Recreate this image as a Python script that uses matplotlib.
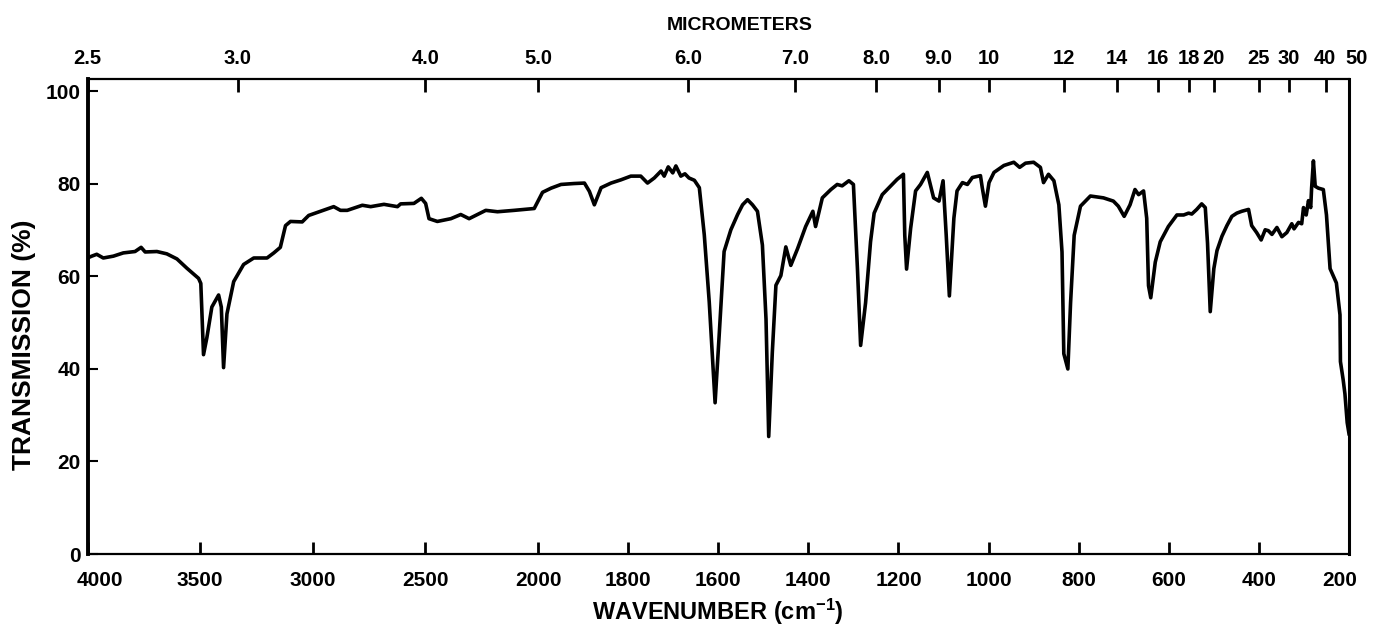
import numpy as np
import matplotlib
matplotlib.use("Agg")
import matplotlib.pyplot as plt
from matplotlib.ticker import FixedLocator, FixedFormatter, NullLocator
from matplotlib.transforms import ScaledTranslation

# ---------------- data ----------------
wavenumber = [
    4000, 3981, 3959, 3930, 3885, 3841, 3789, 3762, 3744, 3692, 3648, 3603, 3559, 3507,
    3497, 3485, 3470, 3448, 3418, 3406, 3396, 3381, 3351, 3307, 3262, 3203, 3173, 3144,
    3121, 3099, 3047, 3018, 2966, 2907, 2877, 2847, 2780, 2743, 2684, 2624, 2610, 2551,
    2518, 2499, 2484, 2447, 2387, 2343, 2306, 2269, 2232, 2180, 2106, 2017, 1990, 1971,
    1949, 1920, 1897, 1886, 1875, 1860, 1838, 1816, 1794, 1772, 1757, 1742, 1727, 1720,
    1711, 1701, 1694, 1683, 1674, 1665, 1653, 1642, 1631, 1620, 1607, 1598, 1587, 1572,
    1557, 1546, 1535, 1524, 1513, 1502, 1494, 1488, 1480, 1472,
    1461, 1450, 1439, 1424, 1406, 1390, 1384, 1369, 1350, 1336, 1325, 1310, 1300, 1291,
    1284, 1273, 1262, 1254, 1236, 1217, 1203, 1189, 1186, 1182, 1173, 1162, 1151, 1136,
    1122, 1110, 1101, 1094, 1087, 1077, 1070, 1058, 1047, 1036, 1018, 1014, 1007, 999,
    988, 966, 944, 931, 918, 900, 885, 878, 867, 855, 844, 837, 833, 824, 818, 810, 796,
    774, 745, 723, 712, 699, 686, 675, 667, 656, 649, 645, 640, 630, 619, 601, 582,
    567, 556, 549, 538, 527, 519, 514, 508, 500, 493, 482, 471, 460, 449, 438, 423, 416,
    405, 395, 386, 379, 371, 360, 349, 338, 327, 322, 312, 305, 301, 295, 290, 285, 283,
    279, 275, 268, 257, 250, 242, 228, 220, 219, 213, 209, 204, 200,
]
transmission = [
    64.0, 64.4, 64.8, 64.0, 64.4, 65.1, 65.4, 66.3, 65.3, 65.4, 64.9, 63.8, 61.8, 59.6,
    58.5, 43.1, 46.8, 53.4, 56.0, 53.4, 40.3, 51.9, 58.9, 62.6, 64.0, 64.0, 65.1, 66.3,
    71.0, 71.9, 71.8, 73.2, 74.1, 75.1, 74.3, 74.3, 75.4, 75.1, 75.6, 75.1, 75.7, 75.8,
    76.9, 75.8, 72.5, 71.9, 72.5, 73.4, 72.5, 73.4, 74.3, 74.0, 74.3, 74.7, 78.2, 79.1,
    79.9, 80.1, 80.2, 78.4, 75.5, 79.2, 80.2, 80.9, 81.7, 81.7, 80.2, 81.3, 82.8, 81.7,
    83.7, 82.4, 83.9, 81.7, 82.2, 81.3, 80.8, 79.2, 69.0, 54.5, 32.7, 47.2, 65.4, 70.1,
    73.4, 75.5, 76.6, 75.5, 74.1, 66.8, 50.8, 25.4, 43.6, 58.1,
    60.2, 66.4, 62.4, 66.0, 70.8, 74.1, 70.8, 77.0, 78.8, 79.9, 79.6, 80.7, 79.9, 61.6,
    45.1, 54.3, 67.5, 73.7, 77.7, 79.6, 81.0, 82.1, 68.9, 61.6, 70.4, 78.5, 79.9, 82.5,
    77.0, 76.3, 80.7, 68.9, 55.8, 72.6, 78.5, 80.3, 79.9, 81.4, 81.8, 79.2, 75.2, 80.3,
    82.5, 84.0, 84.7, 83.6, 84.5, 84.7, 83.6, 80.3, 82.1, 80.7, 75.5, 65.3, 43.3, 40.0,
    54.3, 68.9, 75.2, 77.4, 77.0, 76.3, 75.2, 73.0, 75.5, 78.8, 77.7, 78.5, 72.6, 58.0,
    55.4, 63.1, 67.5, 70.8, 73.3,
    73.3, 73.7, 73.5, 74.5, 75.7, 74.9, 67.2, 52.4, 61.7, 65.6, 68.7, 71.0, 73.0, 73.7,
    74.1, 74.5, 71.0, 69.5, 67.9, 70.1, 69.9, 69.1, 70.6, 68.6, 69.5, 71.4, 70.3, 71.7,
    71.4, 74.9, 73.3, 76.4, 74.9, 79.1, 85.0, 79.5, 79.1, 78.8, 73.3, 61.7, 58.6, 51.7,
    41.6, 37.7, 34.6, 28.4, 26.0,
]

wn_ticks = [4000, 3500, 3000, 2500, 2000, 1800, 1600, 1400, 1200, 1000, 800, 600, 400, 200]
wn_labels = [str(v) for v in wn_ticks]
um_ticks = [2.5, 3.0, 4.0, 5.0, 6.0, 7.0, 8.0, 9.0, 10, 12, 14, 16, 18, 20, 25, 30, 40, 50]
um_labels = ["2.5", "3.0", "4.0", "5.0", "6.0", "7.0", "8.0", "9.0", "10", "12", "14",
             "16", "18", "20", "25", "30", "40", "50"]
y_ticks = [0, 20, 40, 60, 80, 100]

# ---------------- scale: 2x expansion below 2000 cm-1 ----------------
def fwd(w):
    w = np.asarray(w, dtype=float)
    return np.where(w < 2000, w, 2000 + (w - 2000) / 2.0)

def inv(u):
    u = np.asarray(u, dtype=float)
    return np.where(u < 2000, u, 2000 + (u - 2000) * 2.0)

FONT = "Liberation Sans"
plt.rcParams["font.family"] = [FONT, "DejaVu Sans"]
plt.rcParams["font.weight"] = "bold"
plt.rcParams["mathtext.fontset"] = "custom"
plt.rcParams["mathtext.rm"] = "Liberation Sans:bold"
plt.rcParams["mathtext.it"] = "Liberation Sans:bold"
plt.rcParams["mathtext.bf"] = "Liberation Sans:bold"

W, H = 1376, 629
fig = plt.figure(figsize=(W / 100, H / 100), dpi=100)
left, right, top, bottom = 87.5, 1349, 79, 554
ax = fig.add_axes([left / W, (H - bottom) / H, (right - left) / W, (bottom - top) / H])

ax.set_xscale("function", functions=(fwd, inv))
ax.plot(wavenumber, transmission, color="black", lw=2.6, solid_joinstyle="round")
ax.set_xlim(4000, 200)
ax.set_ylim(0, 102.7)

ax.xaxis.set_major_locator(FixedLocator(wn_ticks))
ax.xaxis.set_major_formatter(FixedFormatter(wn_labels))
ax.xaxis.set_minor_locator(NullLocator())
ax.set_yticks(y_ticks)
ax.tick_params(axis="x", direction="in", length=9, width=2, pad=12, labelsize=15, top=False)
ax.tick_params(axis="y", direction="in", length=7, width=1.5, pad=5, labelsize=15, right=False)

for s in ax.spines.values():
    s.set_linewidth(1.6)
ax.spines["left"].set_linewidth(2.8)
ax.spines["right"].set_linewidth(2.2)

ax2 = ax.twiny()
ax2.set_xscale("function", functions=(fwd, inv))
ax2.set_xlim(4000, 200)
ax2.xaxis.set_major_locator(FixedLocator([10000.0 / u for u in um_ticks]))
ax2.xaxis.set_major_formatter(FixedFormatter(um_labels))
ax2.xaxis.set_minor_locator(NullLocator())
ax2.tick_params(axis="x", direction="in", length=9, width=2, pad=8, labelsize=14.5)
for s in ax2.spines.values():
    s.set_visible(False)

fig.text(740 / W, 1 - 26 / H, "MICROMETERS", ha="center", va="center", fontsize=14, fontweight="bold")
fig.text(718 / W, 1 - 612 / H, "WAVENUMBER (cm$^{-1}$)", ha="center", va="center", fontsize=17, fontweight="bold")
fig.text(24 / W, 1 - 345 / H, "TRANSMISSION (%)", ha="center", va="center", rotation=90, fontsize=19, fontweight="bold")

# nudge the end labels inward/outward like the printed chart
fig.canvas.draw()
def nudge(tick_label, dx_px):
    off = ScaledTranslation(dx_px / 100.0, 0, fig.dpi_scale_trans)
    tick_label.set_transform(tick_label.get_transform() + off)

bticks = ax.xaxis.get_major_ticks()
nudge(bticks[0].label1, 12)
nudge(bticks[-1].label1, -9)
tticks = ax2.xaxis.get_major_ticks()
nudge(tticks[-1].label2, 8)
nudge(tticks[-2].label2, -2)

fig.savefig("out.png", dpi=100)
